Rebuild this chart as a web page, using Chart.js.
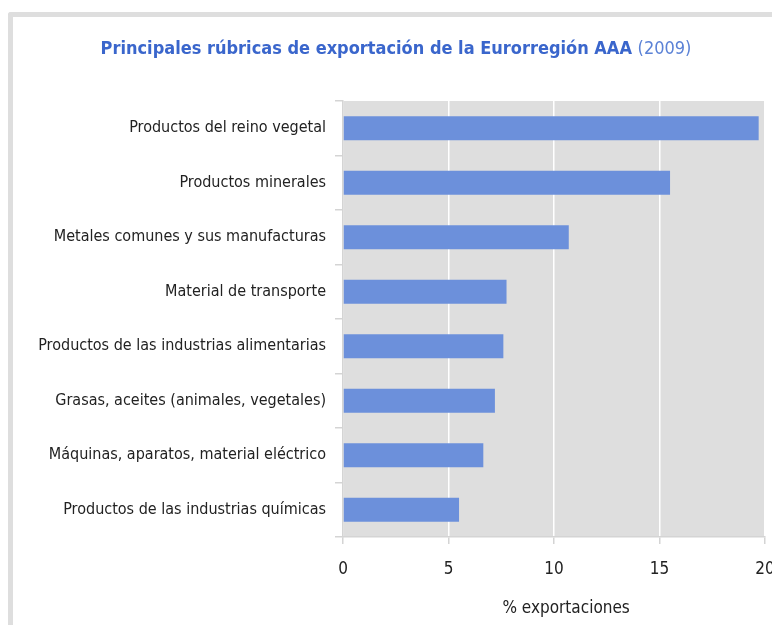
<!DOCTYPE html>
<html>
<head>
<meta charset="utf-8">
<script src="https://cdn.jsdelivr.net/npm/chart.js@4"></script>
<style>
  html, body { margin: 0; padding: 0; background: #fff; overflow: hidden; width: 772px; height: 625px; }
  #frame { position: absolute; left: 8px; top: 12px; width: 900px; height: 700px;
           border-left: 5px solid #dedede; border-top: 5px solid #dedede; border-top-left-radius: 3px; }
  #title { position: absolute; left: 0; top: 37px; width: 792px; text-align: center;
           font-family: 'DejaVu Sans Condensed', 'Liberation Sans Narrow', sans-serif;
           font-size: 18px; color: #3a66cc; font-weight: bold; letter-spacing: 0px; }
  #title span { font-weight: normal; color: #5b82d6; }
  #wrap { position: absolute; left: 0; top: 0; width: 792px; height: 625px; }
</style>
</head>
<body>
<div id="frame"></div>
<div id="wrap"><canvas id="chart"></canvas></div>
<div id="title">Principales rúbricas de exportación de la Eurorregión AAA <span>(2009)</span></div>
<script>
const categories = [
  'Productos del reino vegetal',
  'Productos minerales',
  'Metales comunes y sus manufacturas',
  'Material de transporte',
  'Productos de las industrias alimentarias',
  'Grasas, aceites (animales, vegetales)',
  'Máquinas, aparatos, material eléctrico',
  'Productos de las industrias químicas'
];
const exportShare = [19.7, 15.5, 10.7, 7.75, 7.6, 7.2, 6.65, 5.5];
const xTicks = [0, 5, 10, 15, 20];

const labelFont = { family: "'DejaVu Sans Condensed', 'Liberation Sans Narrow', sans-serif", size: 16 };

const plotBackground = {
  id: 'plotBackground',
  beforeDraw(chart) {
    const a = chart.chartArea;
    const c = chart.ctx;
    c.save();
    c.fillStyle = '#dedede';
    c.fillRect(a.left, a.top, a.right - a.left, a.bottom - a.top);
    c.restore();
  }
};

new Chart(document.getElementById('chart'), {
  type: 'bar',
  data: {
    labels: categories,
    datasets: [{
      data: exportShare,
      backgroundColor: '#6c90db',
      barPercentage: 0.88,
      categoryPercentage: 0.5
    }]
  },
  options: {
    indexAxis: 'y',
    responsive: true,
    maintainAspectRatio: false,
    animation: false,
    layout: { padding: { top: 101, right: 27, bottom: 0, left: 0 } },
    plugins: {
      legend: { display: false },
      tooltip: { enabled: false }
    },
    scales: {
      x: {
        min: 0,
        max: 20,
        afterBuildTicks: scale => { scale.ticks = xTicks.map(v => ({ value: v })); },
        afterFit: scale => { scale.height = 88; },
        grid: { color: '#ffffff', lineWidth: 1.5, tickColor: '#d4d4d4', tickLength: 7, drawTicks: true },
        border: { color: '#d4d4d4', width: 1.5 },
        ticks: { color: '#222', font: { ...labelFont, size: 17 }, padding: 15 },
        title: {
          display: true,
          text: '\u00a0\u00a0\u00a0\u00a0\u00a0% exportaciones',
          color: '#222',
          font: { ...labelFont, size: 17 },
          padding: { top: 0, bottom: 6 }
        }
      },
      y: {
        afterFit: scale => { scale.width = 343; },
        grid: { drawOnChartArea: false, tickColor: '#d4d4d4', tickLength: 8, lineWidth: 1.5 },
        border: { color: '#d4d4d4', width: 1.5 },
        ticks: { color: '#222', font: labelFont, padding: 9 }
      }
    }
  },
  plugins: [plotBackground]
});
</script>
</body>
</html>
